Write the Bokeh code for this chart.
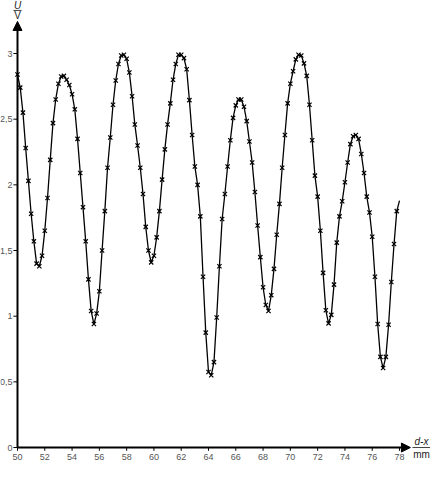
from bokeh.plotting import figure
from bokeh.models import Range1d, Arrow, NormalHead, Label
from bokeh.core.properties import value
from bokeh.embed import file_html
from bokeh.resources import INLINE

# d - x in mm (measurement grid)
d = [
    50.0, 50.2, 50.4, 50.6, 50.8, 51.0, 51.2, 51.4, 51.6, 51.8,
    52.0, 52.2, 52.4, 52.6, 52.8, 53.0, 53.2, 53.4, 53.6, 53.8,
    54.0, 54.2, 54.4, 54.6, 54.8, 55.0, 55.2, 55.4, 55.6, 55.8,
    56.0, 56.2, 56.4, 56.6, 56.8, 57.0, 57.2, 57.4, 57.6, 57.8,
    58.0, 58.2, 58.4, 58.6, 58.8, 59.0, 59.2, 59.4, 59.6, 59.8,
    60.0, 60.2, 60.4, 60.6, 60.8, 61.0, 61.2, 61.4, 61.6, 61.8,
    62.0, 62.2, 62.4, 62.6, 62.8, 63.0, 63.2, 63.4, 63.6, 63.8,
    64.0, 64.2, 64.4, 64.6, 64.8, 65.0, 65.2, 65.4, 65.6, 65.8,
    66.0, 66.2, 66.4, 66.6, 66.8, 67.0, 67.2, 67.4, 67.6, 67.8,
    68.0, 68.2, 68.4, 68.6, 68.8, 69.0, 69.2, 69.4, 69.6, 69.8,
    70.0, 70.2, 70.4, 70.6, 70.8, 71.0, 71.2, 71.4, 71.6, 71.8,
    72.0, 72.2, 72.4, 72.6, 72.8, 73.0, 73.2, 73.4, 73.6, 73.8,
    74.0, 74.2, 74.4, 74.6, 74.8, 75.0, 75.2, 75.4, 75.6, 75.8,
    76.0, 76.2, 76.4, 76.6, 76.8, 77.0, 77.2, 77.4, 77.6, 77.8,
    78.0,
]

# U in V
u = [
    2.84, 2.74, 2.55, 2.28, 2.03, 1.78, 1.57, 1.40, 1.38, 1.46,
    1.65, 1.90, 2.19, 2.47, 2.65, 2.77, 2.825, 2.83, 2.80, 2.76,
    2.69, 2.575, 2.35, 2.09, 1.83, 1.57, 1.28, 1.04, 0.94, 1.02,
    1.19, 1.50, 1.80, 2.13, 2.36, 2.61, 2.795, 2.92, 2.985, 2.99,
    2.96, 2.855, 2.675, 2.46, 2.30, 2.13, 1.93, 1.68, 1.50, 1.41,
    1.46, 1.60, 1.80, 2.04, 2.27, 2.46, 2.62, 2.80, 2.92, 2.99,
    2.99, 2.965, 2.88, 2.645, 2.38, 2.14, 2.00, 1.76, 1.30, 0.875,
    0.575, 0.55, 0.65, 0.99, 1.38, 1.74, 1.93, 2.14, 2.34, 2.51,
    2.605, 2.65, 2.65, 2.595, 2.485, 2.33, 2.17, 1.945, 1.69, 1.45,
    1.22, 1.085, 1.04, 1.16, 1.36, 1.62, 1.855, 2.13, 2.38, 2.62,
    2.77, 2.865, 2.955, 2.99, 2.985, 2.925, 2.83, 2.61, 2.34, 2.07,
    1.91, 1.65, 1.33, 1.045, 0.945, 1.01, 1.24, 1.56, 1.76, 1.875,
    2.02, 2.17, 2.31, 2.37, 2.38, 2.35, 2.235, 2.09, 1.91, 1.79,
    1.605, 1.30, 0.94, 0.69, 0.605, 0.69, 0.935, 1.26, 1.55, 1.80,
    1.88,
]

x_ticks = [50, 52, 54, 56, 58, 60, 62, 64, 66, 68, 70, 72, 74, 76, 78]
x_labels = ["50", "52", "54", "56", "58", "60", "62", "64", "66", "68",
            "70", "72", "74", "76", "78"]
y_ticks = [0, 0.5, 1, 1.5, 2, 2.5, 3]
y_labels = ["0", "0,5", "1", "1,5", "2", "2,5", "3"]

FONT = "Liberation Sans"
X0, Y0 = 50, 0              # axis origin
X_TIP, Y_TIP = 78.8, 3.244  # arrow tips
XT_LEN, YT_LEN = 0.025, 0.3  # tick lengths (data units)
XL_BASE, YL_GAP = 0.0685, 0.37  # label placement relative to the axes (data units)

p = figure(width=430, height=462, output_backend="svg", toolbar_location=None,
           x_range=Range1d(48.754, 80.272), y_range=Range1d(-0.114, 3.4036),
           min_border_left=0, min_border_right=0, min_border_top=0,
           min_border_bottom=0)
p.outline_line_color = None
p.grid.visible = False
p.xaxis.visible = False
p.yaxis.visible = False

# data
p.line(d, u, line_color="black", line_width=1.3)
p.scatter(d[:-1], u[:-1], marker="x", size=6, line_color="black", line_width=1.2)

# ticks and tick labels
p.segment(x0=x_ticks, y0=[Y0] * len(x_ticks), x1=x_ticks, y1=[Y0 - XT_LEN] * len(x_ticks),
          line_color="black", line_width=1)
p.segment(x0=[X0] * len(y_ticks), y0=y_ticks, x1=[X0 - YT_LEN] * len(y_ticks), y1=y_ticks,
          line_color="black", line_width=1)
p.text(x=x_ticks, y=[Y0 - XL_BASE] * len(x_ticks), text=x_labels,
       text_align="center", text_baseline="alphabetic", text_font=value(FONT),
       text_font_size=value("9px"), text_color="#555555")
p.text(x=[X0 - YL_GAP] * len(y_ticks), y=y_ticks, text=y_labels,
       text_align="right", text_baseline="middle", text_font=value(FONT),
       text_font_size=value("9px"), text_color="#555555")

# axis arrows
p.add_layout(Arrow(end=NormalHead(size=9, fill_color="black", line_color="black"),
                   x_start=X0, y_start=Y0, x_end=X_TIP, y_end=Y0,
                   line_width=2, line_color="black"))
p.add_layout(Arrow(end=NormalHead(size=9, fill_color="black", line_color="black"),
                   x_start=X0, y_start=Y0, x_end=X0, y_end=Y_TIP,
                   line_width=2, line_color="black"))

# axis quantity / unit fractions
def frac(xc, y_top, y_line, y_bot, top, bot, half):
    p.add_layout(Label(x=xc, y=y_top, text=top, text_font=FONT, text_font_size="10px",
                       text_font_style="italic", text_align="center",
                       text_baseline="middle", text_color="#222222"))
    p.add_layout(Label(x=xc, y=y_bot, text=bot, text_font=FONT, text_font_size="10px",
                       text_align="center", text_baseline="middle", text_color="#222222"))
    p.add_layout(Arrow(start=None, end=None, x_start=xc - half, y_start=y_line,
                       x_end=xc + half, y_end=y_line, line_width=1, line_color="#444444"))

frac(X0, 3.369, 3.328, 3.290, "U", "V", 0.3)
frac(79.61, 0.046, 0.0, -0.053, "d-x", "mm", 0.66)

open("out.html", "w").write(file_html(p, INLINE))
